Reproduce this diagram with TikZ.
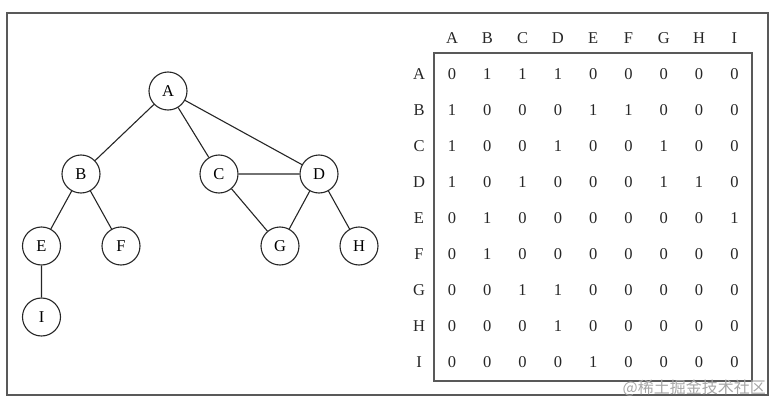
\documentclass[tikz,border=0pt]{standalone}
\usepackage{fontspec}
\setmainfont{Liberation Serif}
\newfontfamily\cjk{Noto Sans CJK SC}
\begin{document}
\begin{tikzpicture}[x=1pt,y=-1pt,
  vtx/.style={draw=black!85,line width=1.1pt,circle,minimum size=38pt,inner sep=0pt,font=\fontsize{16.5}{16.5}\selectfont},
  edge/.style={draw=black!85,line width=1.1pt},
  lbl/.style={font=\fontsize{16.5}{16.5}\selectfont,text=black!85,inner sep=0pt},
  frame/.style={draw=black!65,line width=1.2pt}]
\useasboundingbox (0,0) rectangle (780,412);
\draw[frame] (7,13) rectangle (768,395);
% graph
\node[vtx] (A) at (168,91) {A};
\node[vtx] (B) at (81,174) {B};
\node[vtx] (C) at (219,174) {C};
\node[vtx] (D) at (319,174) {D};
\node[vtx] (E) at (41.5,246) {E};
\node[vtx] (F) at (121,246) {F};
\node[vtx] (G) at (280,246) {G};
\node[vtx] (H) at (359,246) {H};
\node[vtx] (I) at (41.5,317) {I};
\draw[edge] (A)--(B) (A)--(C) (A)--(D) (C)--(D) (B)--(E) (B)--(F)
  (C)--(G) (D)--(G) (D)--(H) (E)--(I);
% matrix
\draw[frame] (434,53) rectangle (752,381);
\foreach \n [count=\i from 0] in {A,B,C,D,E,F,G,H,I}{
  \node[lbl] (c\n) at ({452+35.3*\i},38) {\n};
  \node[lbl] (r\n) at (419,{74+36*\i}) {\n};
}
\foreach \row [count=\r from 0] in {
  {0,1,1,1,0,0,0,0,0},
  {1,0,0,0,1,1,0,0,0},
  {1,0,0,1,0,0,1,0,0},
  {1,0,1,0,0,0,1,1,0},
  {0,1,0,0,0,0,0,0,1},
  {0,1,0,0,0,0,0,0,0},
  {0,0,1,1,0,0,0,0,0},
  {0,0,0,1,0,0,0,0,0},
  {0,0,0,0,1,0,0,0,0}}{
  \foreach \v [count=\c from 0] in \row {
    \node[lbl] (m\r-\c) at ({452+35.3*\c},{74+36*\r}) {\v};
  }
}
\node[font=\cjk\fontsize{16}{16}\selectfont,text=black!35,inner sep=0pt,anchor=east] (wm) at (766,388) {@稀土掘金技术社区};
\end{tikzpicture}
\end{document}
